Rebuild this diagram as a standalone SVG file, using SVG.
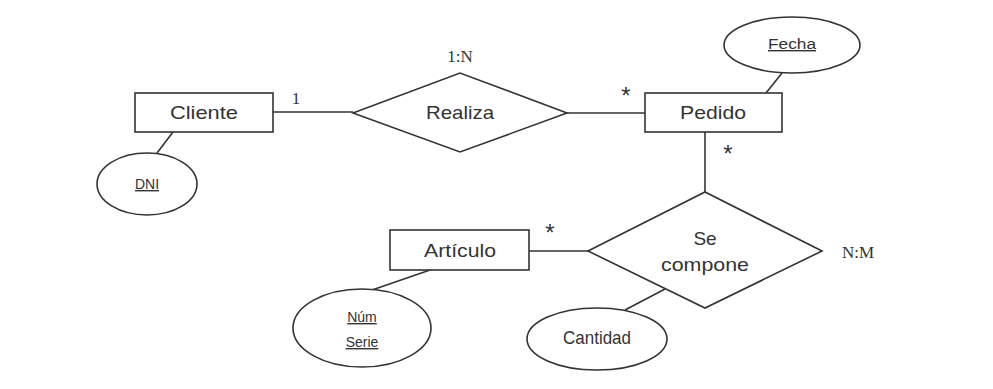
<svg xmlns="http://www.w3.org/2000/svg" width="993" height="389" viewBox="0 0 993 389">
<style>
.s{fill:#fff;stroke:#333;stroke-width:1.6}
.c{stroke:#333;stroke-width:1.6;fill:none}
.t{font-family:"Liberation Sans",Arial,sans-serif;font-size:19px;fill:#333;text-anchor:middle}
.a{font-family:"Liberation Sans",Arial,sans-serif;font-size:14px;fill:#333;text-anchor:middle;text-decoration:underline}
.r{font-family:"Liberation Serif","Times New Roman",serif;font-size:17px;fill:#333;text-anchor:middle}
.k{font-family:"Liberation Sans",Arial,sans-serif;font-size:24px;fill:#333;text-anchor:middle}
</style>
<rect width="993" height="389" fill="#fff"/>
<g id="connectors">
<line class="c" x1="273" y1="112" x2="353" y2="112"/>
<line class="c" x1="567" y1="113" x2="645" y2="113"/>
<line class="c" x1="705" y1="132" x2="705" y2="192"/>
<line class="c" x1="529" y1="251" x2="588" y2="251"/>
<line class="c" x1="173" y1="132" x2="157" y2="153"/>
<line class="c" x1="766" y1="93" x2="782" y2="73"/>
<line class="c" x1="430" y1="270" x2="372" y2="290"/>
<line class="c" x1="665" y1="289" x2="625" y2="310"/>
<text class="r" x="296" y="104" font-size="21">1</text>
<text class="k" x="626" y="104">*</text>
<text class="k" x="728" y="162">*</text>
<text class="k" x="550" y="241">*</text>
</g>
<g id="cliente"><rect class="s" x="135" y="93" width="138" height="39"/><text class="t" x="204" y="119" textLength="68" lengthAdjust="spacingAndGlyphs">Cliente</text></g>
<g id="dni"><ellipse class="s" cx="147" cy="184" rx="50" ry="31"/><text class="a" x="147" y="189">DNI</text></g>
<g id="realiza"><polygon class="s" points="353,113 460,73 567,113 460,152"/><text class="t" x="460" y="119" textLength="68" lengthAdjust="spacingAndGlyphs">Realiza</text><text class="r" x="460" y="62">1:N</text></g>
<g id="pedido"><rect class="s" x="645" y="93" width="137" height="39"/><text class="t" x="713" y="119" textLength="66" lengthAdjust="spacingAndGlyphs">Pedido</text></g>
<g id="fecha"><ellipse class="s" cx="792" cy="45" rx="68" ry="28"/><text class="a" x="792" y="49" textLength="48" lengthAdjust="spacingAndGlyphs">Fecha</text></g>
<g id="secompone"><polygon class="s" points="588,251 705,192 822,251 705,308"/><text class="t" x="705" y="245">Se</text><text class="t" x="705" y="271" textLength="88" lengthAdjust="spacingAndGlyphs">compone</text><text class="r" x="858" y="258">N:M</text></g>
<g id="cantidad"><ellipse class="s" cx="597" cy="339" rx="70" ry="31"/><text class="t" x="597" y="344" font-size="15" textLength="68" lengthAdjust="spacingAndGlyphs">Cantidad</text></g>
<g id="articulo"><rect class="s" x="390" y="230" width="139" height="40"/><text class="t" x="460" y="257" textLength="72" lengthAdjust="spacingAndGlyphs">Artículo</text></g>
<g id="numserie"><ellipse class="s" cx="362" cy="328" rx="69" ry="39"/><text class="a" x="362" y="322">Núm</text><text class="a" x="362" y="347">Serie</text></g>
</svg>
